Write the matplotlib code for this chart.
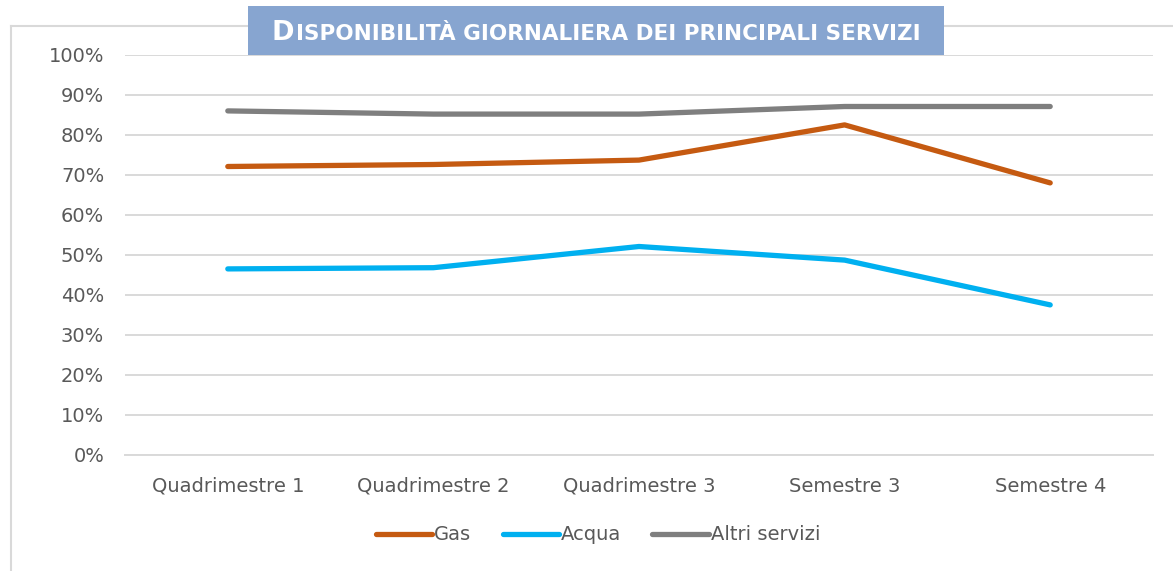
import matplotlib
matplotlib.use("Agg")
import matplotlib.pyplot as plt
import numpy as np
from matplotlib.patches import Rectangle
from matplotlib.lines import Line2D
from matplotlib.ticker import FuncFormatter

categories = ["Quadrimestre 1", "Quadrimestre 2", "Quadrimestre 3", "Semestre 3", "Semestre 4"]
gas = [72.0, 72.5, 73.6, 82.4, 67.9]
acqua = [46.4, 46.7, 52.0, 48.6, 37.4]
altri = [85.9, 85.1, 85.1, 87.0, 87.0]
series_names = ["Gas", "Acqua", "Altri servizi"]
colors = ["#C55A11", "#00B0F0", "#7F7F7F"]
title_first = "D"
title_rest = "ISPONIBILITÀ GIORNALIERA DEI PRINCIPALI SERVIZI"

W, H = 1173, 571
fig = plt.figure(figsize=(W / 100, H / 100), dpi=100)
fig.patch.set_facecolor("white")

# outer chart border (top and left edges visible)
fig.add_artist(Line2D([10.5 / W, 1.0], [1 - 26 / H, 1 - 26 / H], transform=fig.transFigure,
                      color="#D9D9D9", linewidth=1.5))
fig.add_artist(Line2D([10.5 / W, 10.5 / W], [1 - 26 / H, 0.0], transform=fig.transFigure,
                      color="#D9D9D9", linewidth=1.5))

ax = fig.add_axes([125 / W, 1 - 454.5 / H, 1028 / W, 400 / H])
xs = np.arange(len(categories))
for name, vals, c in zip(series_names, [gas, acqua, altri], colors):
    ax.plot(xs, vals, color=c, linewidth=3.8, solid_capstyle="round",
            solid_joinstyle="round", label=name)

ax.set_xlim(-0.5, len(categories) - 0.5)
ax.set_ylim(0, 100)
ax.set_yticks(np.arange(0, 101, 10))
ax.yaxis.set_major_formatter(FuncFormatter(lambda v, p: f"{int(v)}%"))
ax.set_xticks(xs)
ax.set_xticklabels(categories)
ax.grid(axis="y", color="#D9D9D9", linewidth=1.4)
ax.set_axisbelow(True)
for s in ["top", "right", "left"]:
    ax.spines[s].set_visible(False)
ax.spines["bottom"].set_color("#D9D9D9")
ax.spines["bottom"].set_linewidth(1.4)
ax.tick_params(axis="both", length=0, labelsize=14, labelcolor="#595959")
ax.tick_params(axis="y", pad=15)
ax.tick_params(axis="x", pad=16)

leg = fig.legend(loc="center", bbox_to_anchor=(598 / W, 1 - 535 / H), ncol=3, frameon=False,
                 fontsize=14, handlelength=2.9, handletextpad=0.1, columnspacing=1.6)
for t in leg.get_texts():
    t.set_color("#595959")
for l in leg.get_lines():
    l.set_linewidth(3.8)
    l.set_solid_capstyle("round")

# title box
fig.add_artist(Rectangle((248 / W, 1 - 55 / H), 696 / W, 49 / H,
                         transform=fig.transFigure, facecolor="#87A5D0",
                         edgecolor="none", zorder=5))
t1 = fig.text(272 / W, 1 - 40 / H, title_first, color="white", fontsize=19.5,
              fontweight="bold", ha="left", va="baseline", zorder=6)
fig.canvas.draw()
bb = t1.get_window_extent(renderer=fig.canvas.get_renderer())
fig.text((bb.x1 + 1) / W, 1 - 40 / H, title_rest, color="white", fontsize=15.5,
         fontweight="bold", ha="left", va="baseline", zorder=6)

fig.savefig("out.png", dpi=100, facecolor="white")
